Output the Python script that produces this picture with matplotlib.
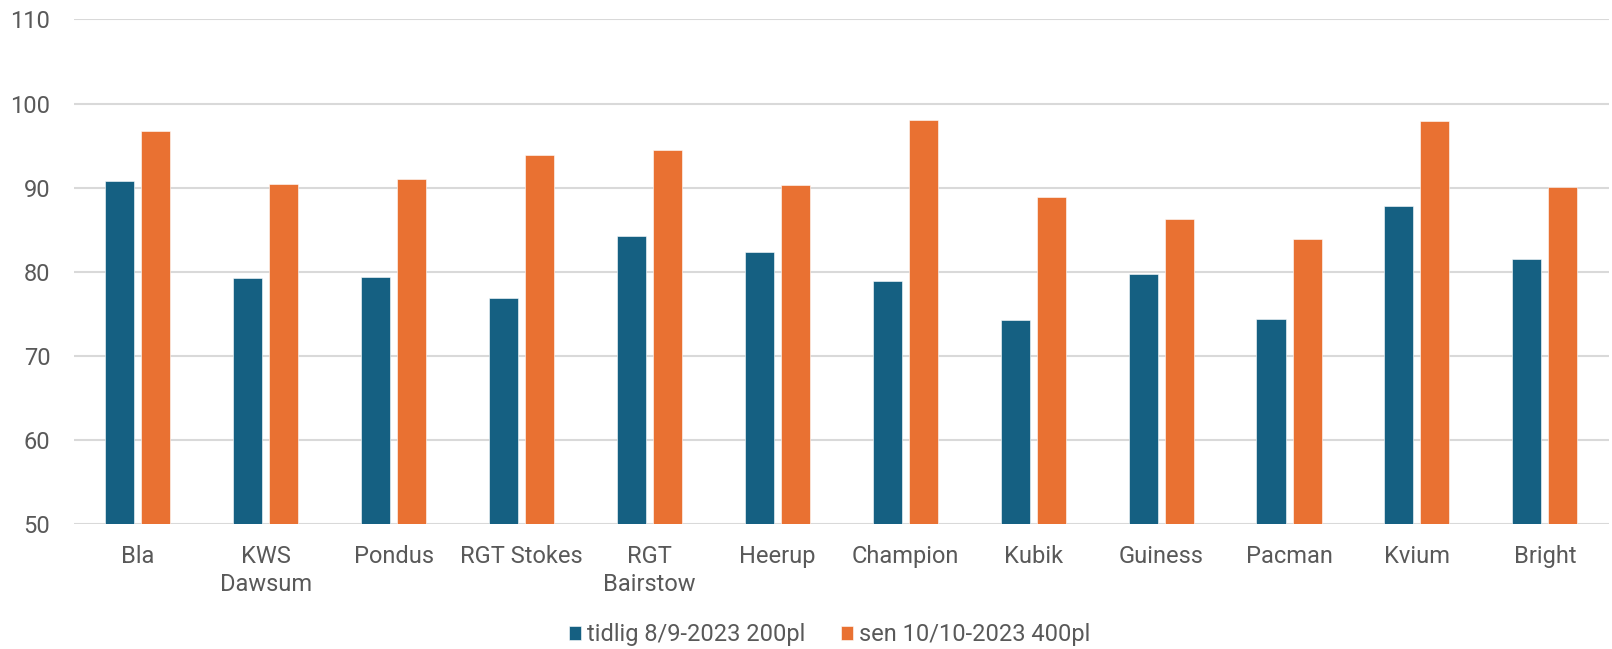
import matplotlib
matplotlib.use("Agg")
import matplotlib.pyplot as plt
import numpy as np

categories = ["Bla", "KWS\nDawsum", "Pondus", "RGT Stokes", "RGT\nBairstow", "Heerup",
              "Champion", "Kubik", "Guiness", "Pacman", "Kvium", "Bright"]
tidlig = [90.8, 79.2, 79.4, 76.9, 84.2, 82.3, 78.9, 74.3, 79.7, 74.4, 87.8, 81.5]
sen = [96.7, 90.4, 91.0, 93.9, 94.5, 90.3, 98.0, 88.9, 86.3, 83.9, 97.9, 90.1]
series_names = ["tidlig 8/9-2023 200pl", "sen 10/10-2023 400pl"]
yticks = [50, 60, 70, 80, 90, 100, 110]

plt.rcParams['font.family'] = ['Roboto', 'DejaVu Sans']
text_color = "#595959"

fig = plt.figure(figsize=(16.12, 6.49), dpi=100)
ax = fig.add_axes([0.0459, 0.193, 0.9521, 0.777])

x = np.arange(len(categories))
w = 0.227
gap = 0.055
ax.bar(x - (w + gap) / 2, tidlig, width=w, color="#156082", label=series_names[0],
       edgecolor="white", linewidth=0.4, zorder=3)
ax.bar(x + (w + gap) / 2, sen, width=w, color="#E97132", label=series_names[1],
       edgecolor="white", linewidth=0.4, zorder=3)

ax.set_ylim(50, 110)
ax.set_xlim(-0.5, len(categories) - 0.5)
ax.set_yticks(yticks)
ax.set_xticks(x)
ax.set_xticklabels(categories, linespacing=1.3)
ax.grid(axis="y", color="#d9d9d9", linewidth=1.5, zorder=0)
for s in ax.spines.values():
    s.set_visible(False)
ax.tick_params(axis="both", length=0, colors=text_color, labelsize=17)
ax.tick_params(axis="x", pad=15)
ax.tick_params(axis="y", pad=17)

leg = fig.legend(loc="center", bbox_to_anchor=(0.5147, 0.022), ncol=2, frameon=False,
                 fontsize=17, handlelength=0.52, handleheight=0.52, handletextpad=0.25,
                 columnspacing=1.5, borderpad=0)
for t in leg.get_texts():
    t.set_color(text_color)

fig.savefig("out.png", dpi=100)
